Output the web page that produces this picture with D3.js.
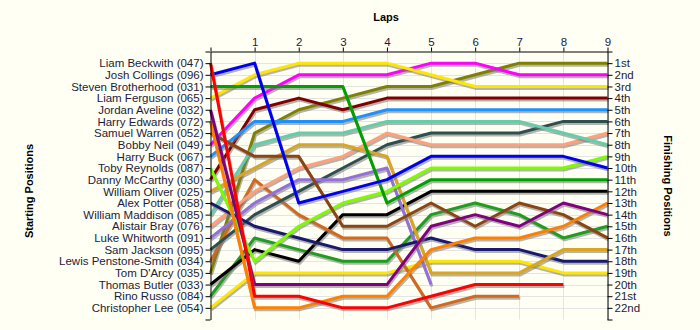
<!DOCTYPE html>
<html>
<head>
<meta charset="utf-8">
<script src="https://cdn.jsdelivr.net/npm/d3@7"></script>
<style>
  html, body { margin: 0; padding: 0; background: #fffff4; }
  svg { display: block; font-family: "Liberation Sans", Arial, sans-serif; }
  .domain, .tick line { stroke: #000; }
</style>
</head>
<body>
<svg id="chart" width="700" height="330"></svg>
<script>
const drivers = [
  "Liam Beckwith (047)", "Josh Collings (096)", "Steven Brotherhood (031)", "Liam Ferguson (065)",
  "Jordan Aveline (032)", "Harry Edwards (072)", "Samuel Warren (052)", "Bobby Neil (049)",
  "Harry Buck (067)", "Toby Reynolds (087)", "Danny McCarthy (030)", "William Oliver (025)",
  "Alex Potter (058)", "William Maddison (085)", "Alistair Bray (076)", "Luke Whitworth (091)",
  "Sam Jackson (095)", "Lewis Penstone-Smith (034)", "Tom D'Arcy (035)", "Thomas Butler (033)",
  "Rino Russo (084)", "Christopher Lee (054)"
];
const driverColors = [
  "#ff0000", "#0000f0", "#00a000", "#ffe600",
  "#800080", "#ff8000", "#8b4513", "#ff00ff",
  "#1e90ff", "#7cfc00", "#800000", "#daa520",
  "#191970", "#66cdaa", "#ffa07a", "#9370db",
  "#2f4f4f", "#d2691e", "#808000", "#000000",
  "#1e9e1e", "#ffe600"
];
// positions at lap 0..9 (null = retired)
const lapPositions = [
  [1,21,21,22,22,21,20,20,20,null],
  [2,1,13,12,11,9,9,9,9,10],
  [3,3,3,3,13,11,11,11,11,11],
  [4,2,1,1,1,2,3,3,3,3],
  [5,20,20,20,20,15,14,15,13,14],
  [6,22,22,21,21,17,16,16,15,13],
  [7,9,9,15,15,13,15,13,14,16],
  [8,4,2,2,2,1,1,2,2,2],
  [9,6,6,6,5,5,5,5,5,5],
  [10,18,15,13,12,10,10,10,10,9],
  [11,5,4,5,4,4,4,4,4,4],
  [12,10,8,8,9,19,19,19,17,17],
  [13,15,16,17,17,16,17,17,18,18],
  [14,8,7,7,6,6,6,6,7,8],
  [15,12,10,9,7,8,8,8,8,7],
  [16,13,11,11,10,20,null,null,null,null],
  [17,14,12,10,8,7,7,7,6,6],
  [18,11,14,16,16,22,21,21,null,null],
  [19,7,5,4,3,3,2,1,1,1],
  [20,17,18,14,14,12,12,12,12,12],
  [21,16,17,18,18,14,13,14,16,15],
  [22,19,19,19,19,18,18,18,19,19]
];
const lapTicks = [0,1,2,3,4,5,6,7,8,9];
const finishLabels = ["1st","2nd","3rd","4th","5th","6th","7th","8th","9th","10th","11th",
  "12th","13th","14th","15th","16th","17th","18th","19th","20th","21st","22nd"];

const svg = d3.select("#chart");
svg.append("rect").attr("width", 700).attr("height", 330).attr("fill", "#fffff4");

const x = d3.scaleLinear().domain([0, 9]).range([210.5, 607.5]);
const y = d3.scaleLinear().domain([0, 23]).range([51.5, 319.5]);
const positions = d3.range(1, drivers.length + 1);

// grid
const grid = svg.append("g").attr("stroke", "#e4e4e4").attr("stroke-width", 1);
grid.selectAll("line.h").data(positions).join("line")
  .attr("x1", x(0)).attr("x2", x(9))
  .attr("y1", d => Math.round(y(d)) + 0.5).attr("y2", d => Math.round(y(d)) + 0.5);
grid.selectAll("line.v").data(lapTicks.slice(1)).join("line")
  .attr("x1", d => Math.round(x(d)) + 0.5).attr("x2", d => Math.round(x(d)) + 0.5)
  .attr("y1", y(0)).attr("y2", y(23));

// lines
const line = d3.line()
  .defined(d => d != null)
  .x((d, i) => x(i))
  .y(d => y(d));

const order = d3.range(drivers.length).reverse();
const lines = svg.append("g");
order.forEach(i => {
  lines.append("path")
    .attr("d", line(lapPositions[i]))
    .attr("fill", "none")
    .attr("stroke", "#777")
    .attr("stroke-opacity", 0.55)
    .attr("stroke-width", 3)
    .attr("transform", "translate(1,2)");
  lines.append("path")
    .attr("d", line(lapPositions[i]))
    .attr("fill", "none")
    .attr("stroke", driverColors[i])
    .attr("stroke-width", 3)
    .attr("stroke-linejoin", "round");
});

// axes
const leftAxis = d3.axisLeft(y)
  .tickValues(d3.range(0, 24))
  .tickFormat(d => (d >= 1 && d <= drivers.length) ? drivers[d - 1] : "")
  .tickSize(5).tickSizeOuter(0).tickPadding(2);
svg.append("g").attr("class", "ax").attr("transform", `translate(${x(0)},0)`).call(leftAxis);

const rightAxis = d3.axisRight(y)
  .tickValues(d3.range(0, 24))
  .tickFormat(d => (d >= 1 && d <= finishLabels.length) ? finishLabels[d - 1] : "")
  .tickSize(5).tickSizeOuter(0).tickPadding(2);
svg.append("g").attr("class", "ax").attr("transform", `translate(${x(9)},0)`).call(rightAxis);

const topAxis = d3.axisTop(x)
  .tickValues(lapTicks)
  .tickFormat(d => d === 0 ? "" : d)
  .tickSize(4).tickSizeOuter(0).tickPadding(2);
svg.append("g").attr("class", "ax").attr("transform", `translate(0,${y(0)})`).call(topAxis);

svg.selectAll(".ax").attr("font-family", null).attr("font-size", null);
svg.selectAll(".tick text").attr("fill", "#1c1c3c").style("font-size", "11.5px");

// titles
svg.append("text").attr("x", 386).attr("y", 21)
  .attr("text-anchor", "middle").attr("font-weight", "bold").attr("font-size", 11)
  .text("Laps");
svg.append("text").attr("transform", "translate(33,191) rotate(-90)")
  .attr("text-anchor", "middle").attr("font-weight", "bold").attr("font-size", 11)
  .text("Starting Positions");
svg.append("text").attr("transform", "translate(664,186) rotate(90)")
  .attr("text-anchor", "middle").attr("font-weight", "bold").attr("font-size", 11)
  .text("Finishing Positions");
</script>
</body>
</html>
